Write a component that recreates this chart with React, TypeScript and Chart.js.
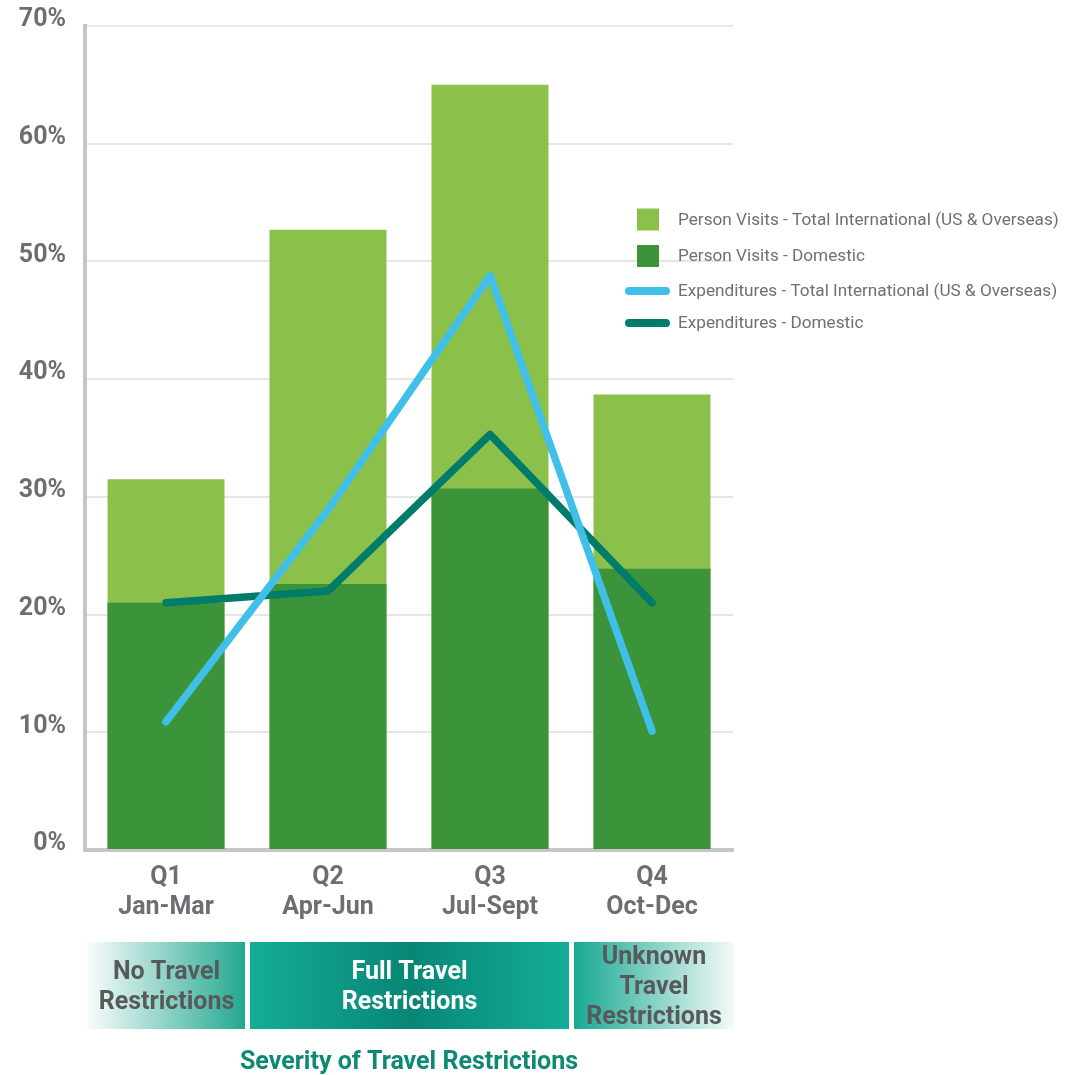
import React, { useEffect, useRef } from 'react';
import { Chart, registerables } from 'chart.js';

Chart.register(...registerables);

// ---------- data ----------
const categories: string[][] = [
  ['Q1', 'Jan-Mar'],
  ['Q2', 'Apr-Jun'],
  ['Q3', 'Jul-Sept'],
  ['Q4', 'Oct-Dec'],
];
const visitsInternational = [31.5, 52.7, 65.0, 38.7];
const visitsDomestic = [21.0, 22.6, 30.7, 23.9];
const expenditureInternational = [10.9, 28.9, 48.8, 10.1];
const expenditureDomestic = [21.0, 22.0, 35.3, 21.0];

const seriesLabels = [
  'Person Visits - Total International (US & Overseas)',
  'Person Visits - Domestic',
  'Expenditures - Total International (US & Overseas)',
  'Expenditures - Domestic',
];

const yMin = 0;
const yMax = 70;
const yStep = 10;

// restriction bands: category index ranges
const bandLabels: string[][] = [
  ['No Travel', 'Restrictions'],
  ['Full Travel', 'Restrictions'],
  ['Unknown', 'Travel', 'Restrictions'],
];
const bandStart = [0, 1, 3];
const bandEnd = [1, 3, 4];
const bandTitle = 'Severity of Travel Restrictions';

// ---------- styling ----------
const W = 1081;
const H = 1075;
const TOP = 26;
const AREA_BOTTOM = 850;
const LEFT_W = 85;
const RIGHT_PAD = W - 733;

const C_LIGHT = '#8bc14b';
const C_DARK = '#3b943a';
const C_BLUE = '#40c0e8';
const C_TEAL = '#007c6a';
const C_TEXT = '#6d6e71';
const FONT = 'Roboto, "Noto Sans", sans-serif';

const legendPlugin = {
  id: 'customLegend',
  afterDraw(chart: any) {
    const ctx = chart.ctx as CanvasRenderingContext2D;
    const ds = chart.data.datasets;
    const ys = [219.5, 256, 291, 323];
    ctx.save();
    ds.forEach((d: any, i: number) => {
      const y = ys[i];
      if (d.type === 'line') {
        ctx.strokeStyle = d.borderColor;
        ctx.lineWidth = 8;
        ctx.lineCap = 'round';
        ctx.beginPath();
        ctx.moveTo(629, y);
        ctx.lineTo(666, y);
        ctx.stroke();
      } else {
        ctx.fillStyle = d.backgroundColor;
        ctx.fillRect(637, y - 11, 22, 22);
      }
      ctx.fillStyle = '#707070';
      ctx.font = `17.2px ${FONT}`;
      ctx.textAlign = 'left';
      ctx.textBaseline = 'middle';
      ctx.fillText(d.label, 678, y + 1);
    });
    ctx.restore();
  },
};

const bandPlugin = {
  id: 'bands',
  afterDraw(chart: any) {
    const ctx = chart.ctx as CanvasRenderingContext2D;
    const area = chart.chartArea;
    const catW = (area.right - area.left) / categories.length;
    const top = 942;
    const bottom = 1029;
    const mid = (top + bottom) / 2;
    ctx.save();
    bandLabels.forEach((lines, i) => {
      const x0 = area.left + bandStart[i] * catW + 3;
      const x1 = area.left + bandEnd[i] * catW - (i === bandLabels.length - 1 ? -1 : 2);
      const g = ctx.createLinearGradient(x0, 0, x1, 0);
      if (i === 0) {
        g.addColorStop(0, '#f8fcfb');
        g.addColorStop(1, '#23a891');
      } else if (i === bandLabels.length - 1) {
        g.addColorStop(0, '#18a993');
        g.addColorStop(1, '#f4faf8');
      } else {
        g.addColorStop(0, '#14ad98');
        g.addColorStop(0.5, '#088676');
        g.addColorStop(1, '#14ad98');
      }
      ctx.fillStyle = g;
      ctx.fillRect(x0, top, x1 - x0, bottom - top);
      ctx.fillStyle = i === 1 ? '#ffffff' : '#58595b';
      ctx.font = `bold 25px ${FONT}`;
      ctx.textAlign = 'center';
      ctx.textBaseline = 'middle';
      const cx = (x0 + x1) / 2;
      const lh = 30;
      lines.forEach((t, k) => {
        const y = mid + (k - (lines.length - 1) / 2) * lh + 2;
        ctx.fillText(t, cx, y);
      });
    });
    ctx.fillStyle = '#0f8a72';
    ctx.font = `bold 25px ${FONT}`;
    ctx.textAlign = 'center';
    ctx.textBaseline = 'middle';
    ctx.fillText(bandTitle, (area.left + area.right) / 2, 1063);
    ctx.restore();
  },
};

export default function App() {
  const ref = useRef<HTMLCanvasElement | null>(null);
  useEffect(() => {
    document.body.style.margin = '0';
    document.documentElement.style.overflow = 'hidden';
    if (!ref.current) return;
    const chart = new Chart(ref.current, {
      type: 'bar',
      data: {
        labels: categories,
        datasets: [
          {
            type: 'bar',
            label: seriesLabels[0],
            data: visitsInternational,
            backgroundColor: C_LIGHT,
            order: 4,
            barPercentage: 0.722,
            categoryPercentage: 1,
          },
          {
            type: 'bar',
            label: seriesLabels[1],
            data: visitsDomestic,
            backgroundColor: C_DARK,
            order: 3,
            barPercentage: 0.722,
            categoryPercentage: 1,
          },
          {
            type: 'line',
            label: seriesLabels[2],
            data: expenditureInternational,
            borderColor: C_BLUE,
            backgroundColor: C_BLUE,
            borderWidth: 7.5,
            pointRadius: 0,
            tension: 0,
            borderCapStyle: 'round',
            borderJoinStyle: 'round',
            order: 1,
          },
          {
            type: 'line',
            label: seriesLabels[3],
            data: expenditureDomestic,
            borderColor: C_TEAL,
            backgroundColor: C_TEAL,
            borderWidth: 7.5,
            pointRadius: 0,
            tension: 0,
            borderCapStyle: 'round',
            borderJoinStyle: 'round',
            order: 2,
          },
        ] as any,
      },
      options: {
        responsive: false,
        animation: false,
        layout: { padding: { top: TOP, right: RIGHT_PAD, left: 0, bottom: 0 } },
        plugins: {
          legend: { display: false },
          tooltip: { enabled: false },
          title: { display: false },
        },
        scales: {
          x: {
            stacked: true,
            grid: { display: false, drawTicks: false },
            border: { display: true, color: '#c6c6c6', width: 4 },
            ticks: {
              color: C_TEXT,
              font: { family: FONT, size: 25, weight: 'bold', lineHeight: '30px' } as any,
              padding: 13,
              maxRotation: 0,
              autoSkip: false,
            },
            afterFit(scale: any) {
              scale.height = H - AREA_BOTTOM;
              scale.paddingLeft = 0;
              scale.paddingRight = 0;
            },
          },
          y: {
            stacked: false,
            min: yMin,
            max: yMax,
            grid: { color: '#e6e6e6', lineWidth: 2, drawTicks: false },
            border: { display: true, color: '#c6c6c6', width: 4 },
            ticks: {
              stepSize: yStep,
              color: C_TEXT,
              font: { family: FONT, size: 25, weight: 'bold' } as any,
              padding: 19,
              labelOffset: -6,
              callback: (v: any) => `${v}%`,
            },
            afterFit(scale: any) {
              scale.width = LEFT_W;
              scale.paddingTop = 0;
              scale.paddingBottom = 0;
            },
          },
        },
      },
      plugins: [legendPlugin, bandPlugin],
    });
    return () => chart.destroy();
  }, []);
  return (
    <div style={{ width: W, height: H, overflow: 'hidden' }}>
      <canvas ref={ref} width={W} height={H} style={{ display: 'block', width: W, height: H }} />
    </div>
  );
}
